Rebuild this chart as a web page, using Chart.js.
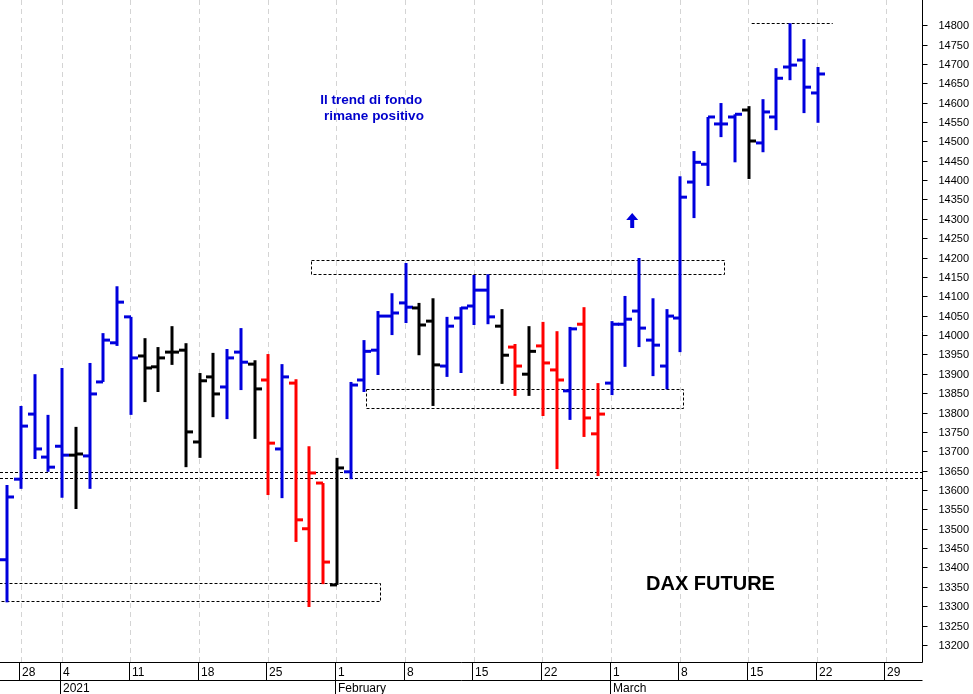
<!DOCTYPE html>
<html><head><meta charset="utf-8">
<script src="https://cdn.jsdelivr.net/npm/chart.js@4.4.1/dist/chart.umd.min.js"></script>
<style>html,body{margin:0;padding:0;background:#fff}#wrap{width:973px;height:694px;position:relative}</style>
</head><body><div id="wrap"><canvas id="c" width="973" height="694"></canvas></div>
<script>
// trading-day index: Dec 28 = 0
const dates = ["Dec23","Dec28","Dec29","Dec30","Jan4","Jan5","Jan6","Jan7","Jan8","Jan11","Jan12","Jan13","Jan14","Jan15","Jan18","Jan19","Jan20","Jan21","Jan22","Jan25","Jan26","Jan27","Jan28","Jan29","Feb1","Feb2","Feb3","Feb4","Feb5","Feb8","Feb9","Feb10","Feb11","Feb12","Feb15","Feb16","Feb17","Feb18","Feb19","Feb22","Feb23","Feb24","Feb25","Feb26","Mar1","Mar2","Mar3","Mar4","Mar5","Mar8","Mar9","Mar10","Mar11","Mar12","Mar15","Mar16","Mar17","Mar18","Mar19","Mar22"];
const dayIndex = [-1,0,1,2,3,4,5,6,7,8,9,10,11,12,13,14,15,16,17,18,19,20,21,22,23,24,25,26,27,28,29,30,31,32,33,34,35,36,37,38,39,40,41,42,43,44,45,46,47,48,49,50,51,52,53,54,55,56,57,58];
const opens  = [13420,13628,13796,13685,13713,13690,13688,13879,13980,14047,13946,13918,13956,13961,13724,13892,13866,13956,13925,13884,13706,13876,13500,13618,13355,13647,13884,13961,14049,14083,14070,14036,13920,14044,14075,14116,14023,13969,13899,13972,13910,13856,14028,13745,13876,14028,14062,13987,13920,14044,14395,14441,14545,14563,14581,14496,14563,14692,14710,14625];
const highs  = [13613,13817,13899,13794,13915,13763,13928,14005,14126,14047,13992,13969,14023,13979,13902,13954,13964,14018,13935,13951,13925,13886,13713,13618,13683,13879,13987,14062,14108,14186,14083,14095,14047,14072,14155,14157,14067,13977,14023,14034,14010,14021,14072,13876,14036,14101,14199,14095,14067,14410,14475,14563,14599,14570,14591,14609,14689,14805,14764,14692];
const lows   = [13310,13603,13680,13647,13580,13551,13603,13879,13972,13794,13827,13853,13923,13659,13683,13788,13783,13858,13732,13587,13579,13466,13298,13357,13355,13628,13853,13897,14000,14031,13948,13817,13892,13902,14026,14028,13874,13843,13843,13791,13654,13781,13737,13636,13845,13918,13969,13894,13860,13956,14302,14385,14511,14446,14403,14472,14529,14658,14573,14548];
const closes = [13582,13765,13706,13659,13690,13693,13848,13987,14085,13941,13915,13941,13956,13750,13882,13848,13941,13930,13861,13721,13892,13523,13644,13414,13657,13871,13958,14049,14057,14072,14026,13923,14023,14070,14116,14047,13948,13920,13958,13928,13884,14016,13786,13796,14028,14041,14018,13974,14049,14356,14446,14563,14545,14570,14501,14576,14663,14697,14640,14674];
const colorCode = "BBBBBKBBBBKKKKKKBBKRBRRRKBBBBBKKBBBBKRKRRBRRBBBBBBBBBBKBBBBB";
const weekTicks = [0,3,8,13,18,23,28,33,38,43,48,53,58,63];
const weekLabels = ["28","4","11","18","25","1","8","15","22","1","8","15","22","29"];
const monthTicks = [3,23,43];
const monthLabels = ["2021","February","March"];
const yLabels = [];
for (let v = 13200; v <= 14800; v += 50) yLabels.push(v);
// dashed levels: [x0, x1, price top, price bottom] in day index
const boxes = [[-1.6,26.15,13360,13313],[25.13,48.2,13861,13812],[21.12,51.2,14194,14157]];
const hLines = [13647,13631];
const topLine = [53.2,59.1,14806];
const COLORS = {B:"#0000dd",K:"#000000",R:"#ff0000"};
const barColors = colorCode.split("").slice(0,dates.length).map(c=>COLORS[c]);

const ohlcPlugin = {
  id:'ohlc',
  beforeDatasetsDraw(chart){
    const {ctx, scales:{x,y}, chartArea:a} = chart;
    ctx.save();
    ctx.beginPath(); ctx.rect(a.left,a.top,a.right-a.left,a.bottom-a.top); ctx.clip();
    ctx.strokeStyle='#000'; ctx.lineWidth=1; ctx.setLineDash([3,2]);
    for (const h of hLines){ const py=Math.round(y.getPixelForValue(h))+0.5; ctx.beginPath(); ctx.moveTo(a.left,py); ctx.lineTo(a.right,py); ctx.stroke(); }
    for (const b of boxes){ const x0=Math.round(x.getPixelForValue(b[0]))+0.5,x1=Math.round(x.getPixelForValue(b[1]))+0.5,y0=Math.round(y.getPixelForValue(b[2]))+0.5,y1=Math.round(y.getPixelForValue(b[3]))+0.5; ctx.strokeRect(x0,y0,x1-x0,y1-y0); }
    { const py=Math.round(y.getPixelForValue(topLine[2]))+0.5; ctx.beginPath(); ctx.moveTo(x.getPixelForValue(topLine[0]),py); ctx.lineTo(x.getPixelForValue(topLine[1]),py); ctx.stroke(); }
    ctx.restore();
  },
  afterDatasetsDraw(chart){
    const {ctx, scales:{x,y}, chartArea:a} = chart;
    ctx.save();
    ctx.beginPath(); ctx.rect(a.left,a.top,a.right-a.left,a.bottom-a.top); ctx.clip();
    for (let i=0;i<dates.length;i++){
      const px=Math.round(x.getPixelForValue(dayIndex[i]));
      ctx.strokeStyle=barColors[i]; ctx.lineWidth=3; ctx.lineCap='butt';
      ctx.beginPath(); ctx.moveTo(px,y.getPixelForValue(highs[i])); ctx.lineTo(px,y.getPixelForValue(lows[i])); ctx.stroke();
      ctx.beginPath(); const oy=y.getPixelForValue(opens[i]); ctx.moveTo(px-7,oy); ctx.lineTo(px,oy); ctx.stroke();
      ctx.beginPath(); const cy=y.getPixelForValue(closes[i]); ctx.moveTo(px,cy); ctx.lineTo(px+7,cy); ctx.stroke();
    }
    // arrow
    const ax=x.getPixelForValue(44.5), ay=y.getPixelForValue(14315);
    ctx.fillStyle='#0000dd';
    ctx.beginPath(); ctx.moveTo(ax,ay); ctx.lineTo(ax+6,ay+7); ctx.lineTo(ax+2,ay+7); ctx.lineTo(ax+2,ay+15); ctx.lineTo(ax-2,ay+15); ctx.lineTo(ax-2,ay+7); ctx.lineTo(ax-6,ay+7); ctx.closePath(); ctx.fill();
    ctx.fillStyle='#0000cc'; ctx.font='bold 13.5px "Liberation Sans", Arial, sans-serif'; ctx.textAlign='center'; ctx.textBaseline='middle';
    ctx.fillText('Il trend di fondo', x.getPixelForValue(25.5), y.getPixelForValue(14605));
    ctx.fillText('rimane positivo', x.getPixelForValue(25.7), y.getPixelForValue(14565));
    ctx.fillStyle='#000'; ctx.font='bold 20px "Liberation Sans", Arial, sans-serif';
    ctx.fillText('DAX FUTURE', x.getPixelForValue(50.2), y.getPixelForValue(13357));
    ctx.restore();
    // frame & axes
    ctx.save();
    ctx.strokeStyle='#000'; ctx.lineWidth=1;
    const R=Math.round(a.right)+0.5, B=Math.round(a.bottom)+0.5;
    ctx.beginPath(); ctx.moveTo(R,0); ctx.lineTo(R,B); ctx.moveTo(0,B); ctx.lineTo(R,B); ctx.moveTo(0,B+18); ctx.lineTo(R,B+18); ctx.stroke();
    ctx.font='12px "Liberation Sans", Arial, sans-serif'; ctx.fillStyle='#000'; ctx.textBaseline='middle'; ctx.textAlign='left';
    weekTicks.forEach((t,i)=>{ const px=Math.round(x.getPixelForValue(t))-1.5; ctx.beginPath(); ctx.moveTo(px,B); ctx.lineTo(px,B+18); ctx.stroke(); ctx.fillText(weekLabels[i],px+2.5,B+10); });
    monthTicks.forEach((t,i)=>{ const px=Math.round(x.getPixelForValue(t))-1.5; ctx.beginPath(); ctx.moveTo(px,B+18); ctx.lineTo(px,694); ctx.stroke(); ctx.fillText(monthLabels[i],px+2.5,B+26); });
    ctx.font='11px "Liberation Sans", Arial, sans-serif';
    yLabels.forEach(v=>{ const py=Math.round(y.getPixelForValue(v))+0.5; ctx.beginPath(); ctx.moveTo(R,py); ctx.lineTo(R+5,py); ctx.stroke(); ctx.fillText(String(v),R+16,py); });
    ctx.restore();
  }
};

new Chart(document.getElementById('c'),{
  type:'scatter',
  data:{datasets:[{data:dayIndex.map((d,i)=>({x:d,y:closes[i]})),pointRadius:0,showLine:false}]},
  options:{
    responsive:false, animation:false, devicePixelRatio:1,
    layout:{padding:{left:0,top:0,right:0,bottom:0}},
    plugins:{legend:{display:false},tooltip:{enabled:false}},
    scales:{
      x:{type:'linear',min:-1.53,max:65.6,
        afterBuildTicks:s=>{s.ticks=weekTicks.map(v=>({value:v}));},
        afterFit:s=>{s.height=32;},
        ticks:{display:false},border:{display:false,dash:[5,4]},
        grid:{color:'#d4d4d4',lineWidth:1,drawTicks:false},
      },
      y:{position:'right',min:13156,max:14865,
        afterFit:s=>{s.width=51;},
        ticks:{display:false},grid:{display:false},border:{display:false}}
    }
  },
  plugins:[ohlcPlugin]
});
</script></body></html>
